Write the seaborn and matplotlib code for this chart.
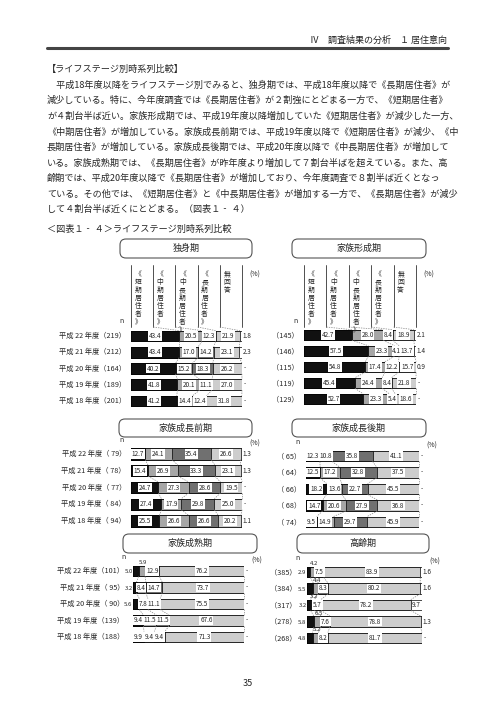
import numpy as np
import pandas as pd
import matplotlib
matplotlib.use("Agg")
import matplotlib.pyplot as plt
import seaborn as sns
from matplotlib.lines import Line2D
from matplotlib.patches import FancyBboxPatch

# ---- data ----
segments = ["《短期居住者》", "《中期居住者》", "《中長期居住者》", "《長期居住者》", "無回答"]
years = ["平成 22 年度", "平成 21 年度", "平成 20 年度", "平成 19 年度", "平成 18 年度"]

single_n = [219, 212, 164, 189, 201]
single_short = [43.4, 43.4, 40.2, 41.8, 41.2]
single_mid = [20.5, 17.0, 15.2, 20.1, 14.4]
single_midlong = [12.3, 14.2, 18.3, 11.1, 12.4]
single_long = [21.9, 23.1, 26.2, 27.0, 31.8]
single_na = [1.8, 2.3, 0.0, 0.0, 0.0]

form_n = [145, 146, 115, 119, 129]
form_short = [42.7, 57.5, 54.8, 45.4, 52.7]
form_mid = [28.0, 23.3, 17.4, 24.4, 23.3]
form_midlong = [8.4, 4.1, 12.2, 8.4, 5.4]
form_long = [18.9, 13.7, 15.7, 21.8, 18.6]
form_na = [2.1, 1.4, 0.9, 0.0, 0.0]

early_n = [79, 78, 77, 84, 94]
early_short = [12.7, 15.4, 24.7, 27.4, 25.5]
early_mid = [24.1, 26.9, 27.3, 17.9, 26.6]
early_midlong = [35.4, 33.3, 28.6, 29.8, 26.6]
early_long = [26.6, 23.1, 19.5, 25.0, 20.2]
early_na = [1.3, 1.3, 0.0, 0.0, 1.1]

late_n = [65, 64, 66, 68, 74]
late_short = [12.3, 12.5, 18.2, 14.7, 9.5]
late_mid = [10.8, 17.2, 13.6, 20.6, 14.9]
late_midlong = [35.8, 32.8, 22.7, 27.9, 29.7]
late_long = [41.1, 37.5, 45.5, 36.8, 45.9]
late_na = [0.0, 0.0, 0.0, 0.0, 0.0]

mature_n = [101, 95, 90, 139, 188]
mature_short = [5.0, 3.2, 5.6, 9.4, 9.9]
mature_mid = [5.9, 8.4, 7.8, 11.5, 9.4]
mature_midlong = [12.9, 14.7, 11.1, 11.5, 9.4]
mature_long = [76.2, 73.7, 75.5, 67.6, 71.3]
mature_na = [0.0, 0.0, 0.0, 0.0, 0.0]

elder_n = [385, 384, 317, 278, 268]
elder_short = [2.9, 5.5, 3.2, 5.8, 4.8]
elder_mid = [4.2, 4.4, 3.2, 6.5, 5.2]
elder_midlong = [7.5, 8.3, 5.7, 7.6, 8.2]
elder_long = [83.9, 80.2, 78.2, 78.8, 81.7]
elder_na = [1.6, 1.6, 9.7, 1.3, 0.0]

body_lines = [
    "　平成18年度以降をライフステージ別でみると、独身期では、平成18年度以降で《長期居住者》が",
    "減少している。特に、今年度調査では《長期居住者》が２割強にとどまる一方で、《短期居住者》",
    "が４割台半ば近い。家族形成期では、平成19年度以降増加していた《短期居住者》が減少した一方、",
    "《中期居住者》が増加している。家族成長前期では、平成19年度以降で《短期居住者》が減少、《中",
    "長期居住者》が増加している。家族成長後期では、平成20年度以降で《中長期居住者》が増加して",
    "いる。家族成熟期では、《長期居住者》が昨年度より増加して７割台半ばを超えている。また、高",
    "齢期では、平成20年度以降で《長期居住者》が増加しており、今年度調査で８割半ば近くとなっ",
    "ている。その他では、《短期居住者》と《中長期居住者》が増加する一方で、《長期居住者》が減少",
    "して４割台半ば近くにとどまる。（図表１‐ ４）",
]

seg_colors = ["#111111", "#a6a6a6", "#707070", "#cdcdcd", "#ffffff"]

sns.set_theme(style="white")
plt.rcParams['font.family'] = ['Noto Sans CJK JP', 'DejaVu Sans']

fig = plt.figure(figsize=(4.96, 7.02), dpi=100)
fig.patch.set_facecolor("white")


def fx(x):
    return x / 496


def fy(y):
    return 1 - y / 702


def ptext(x, y, s, **kw):
    fig.text(fx(x), fy(y), s, **kw)


# ---- page text ----
ptext(447, 40, "Ⅳ　調査結果の分析　１ 居住意向", ha="right", va="center",
      fontsize=6.5, color="#222222")
fig.add_artist(Line2D([fx(47), fx(448)], [fy(48), fy(48)], lw=2.2, color="#444444"))
ptext(47, 69, "【ライフステージ別時系列比較】", ha="left", va="center", fontsize=6.6)
for k, line in enumerate(body_lines):
    ptext(47, 85 + 15.6 * k, line, ha="left", va="center", fontsize=6.55)
ptext(47, 229, "＜図表１‐ ４＞ライフステージ別時系列比較", ha="left", va="center", fontsize=6.6)
ptext(248, 683, "35", ha="center", va="center", fontsize=6.5)


def title_box(x0, x1, y0, y1, label):
    box = FancyBboxPatch((fx(x0), fy(y1)), fx(x1) - fx(x0), fy(y0) - fy(y1),
                         boxstyle="round,pad=0,rounding_size=0.012",
                         mutation_aspect=496 / 702, transform=fig.transFigure,
                         facecolor="white", edgecolor="#555555", lw=0.8)
    fig.add_artist(box)
    ptext((x0 + x1) / 2, (y0 + y1) / 2, label, ha="center", va="center", fontsize=6.5)


def panel(x0, x1, c0, step, vals, nvals, show_years, header, label_gap):
    top = c0 - step / 2
    ax = fig.add_axes([fx(x0), fy(top + 5 * step), fx(x1) - fx(x0), 5 * step / 702])
    vals = np.array(vals)
    cum = np.cumsum(vals, axis=0)
    df = pd.DataFrame({"year": years})
    for k in range(5):
        df[f"c{k}"] = cum[k]
    h = 0.66
    # stacked look: draw cumulative totals from the outermost inwards
    for k in range(4, -1, -1):
        sns.barplot(data=df, x=f"c{k}", y="year", orient="h", color=seg_colors[k],
                    saturation=1, width=h, edgecolor="black", linewidth=0.5,
                    errorbar=None, ax=ax)
    ax.set_xlim(0, 100)
    ax.set_ylim(4.5, -0.5)
    ax.axis("off")

    # dashed connectors between bars
    for i in range(4):
        for k in range(4):
            ax.plot([cum[k][i], cum[k][i + 1]], [i + h / 2, i + 1 - h / 2],
                    ls=(0, (2, 1.5)), lw=0.5, color="#888888", clip_on=False)

    # value labels
    for i in range(5):
        for k in range(5):
            v = vals[k][i]
            start = cum[k - 1][i] if k > 0 else 0
            cx = start + v / 2
            if k == 4:
                if v == 0:
                    ax.text(101.5, i, "-", ha="left", va="center", fontsize=4.6, clip_on=False)
                elif v < 5:
                    ax.text(100.8, i, f"{v:.1f}", ha="left", va="center", fontsize=4.6,
                            clip_on=False)
                else:
                    ax.text(cx, i, f"{v:.1f}", ha="center", va="center", fontsize=4.6)
            elif k == 0 and v < 7:
                ax.text(-0.3, i + 0.05, f"{v:.1f}", ha="right", va="center", fontsize=4.3,
                        clip_on=False)
            elif k == 1 and v < 7:
                ax.text(cx + 1, i - h / 2 - 0.02, f"{v:.1f}", ha="center", va="bottom",
                        fontsize=4.3, clip_on=False)
            else:
                ax.text(cx, i, f"{v:.1f}", ha="center", va="center", fontsize=4.6,
                        bbox=dict(boxstyle="square,pad=0.12", fc="white", ec="none"))

    # row labels
    for i in range(5):
        n = nvals[i]
        nlab = f"（{n:>3}）" if n >= 100 else f"（ {n}）"
        lab = f"{years[i]}{nlab}" if show_years else nlab
        ax.text(-label_gap / (x1 - x0) * 100, i, lab, ha="right", va="center",
                fontsize=5.2, clip_on=False)

    pct = 100 / (x1 - x0)
    if header:
        yb = -0.5 - (top - 327) / step
        yt = -0.5 - (top - 265) / step
        for j in range(6):
            ax.plot([20 * j, 20 * j], [yb, yt], color="#333333", lw=0.6, clip_on=False)
        for j in range(5):
            ax.text(20 * j + 7 * pct, yt + 5 / step, "\n".join(segments[j]),
                    ha="center", va="top", fontsize=4.9, linespacing=1.0, clip_on=False)
        for j in range(1, 5):
            ax.plot([20 * j, cum[j - 1][0]], [yb, -h / 2], ls=(0, (2, 1.5)), lw=0.5,
                    color="#888888", clip_on=False)
        ax.text(100 + 7 * pct, yt + 10 / step, "(%)", ha="left", va="center",
                fontsize=5, clip_on=False)
        ax.text(-9 * pct, yb - 2 / step, "n", ha="center", va="bottom", fontsize=5,
                style="italic", clip_on=False)
    else:
        ax.text(100 + 7 * pct, -0.5 - 2 / step, "(%)", ha="left", va="center",
                fontsize=5, clip_on=False)
        ax.text(-9 * pct, -0.5 - 6 / step, "n", ha="center", va="center", fontsize=5,
                clip_on=False)
    return ax


title_box(120, 252, 239, 258, "独身期")
title_box(292, 426, 239, 258, "家族形成期")
title_box(119, 252, 419, 437, "家族成長前期")
title_box(292, 426, 419, 437, "家族成長後期")
title_box(123, 257, 534, 553, "家族成熟期")
title_box(297, 429, 534, 553, "高齢期")

panel(131, 242, 336, 16.25,
      [single_short, single_mid, single_midlong, single_long, single_na],
      single_n, True, True, 5)
panel(304, 416, 335, 16.0,
      [form_short, form_mid, form_midlong, form_long, form_na],
      form_n, False, True, 5)
panel(131, 242, 454, 16.75,
      [early_short, early_mid, early_midlong, early_long, early_na],
      early_n, True, False, 5)
panel(306, 419, 456, 16.5,
      [late_short, late_mid, late_midlong, late_long, late_na],
      late_n, False, False, 5)
panel(133, 244, 571, 16.5,
      [mature_short, mature_mid, mature_midlong, mature_long, mature_na],
      mature_n, True, False, 9)
panel(307, 422, 572, 16.5,
      [elder_short, elder_mid, elder_midlong, elder_long, elder_na],
      elder_n, False, False, 10)

fig.savefig("out.png", dpi=100, facecolor="white")
